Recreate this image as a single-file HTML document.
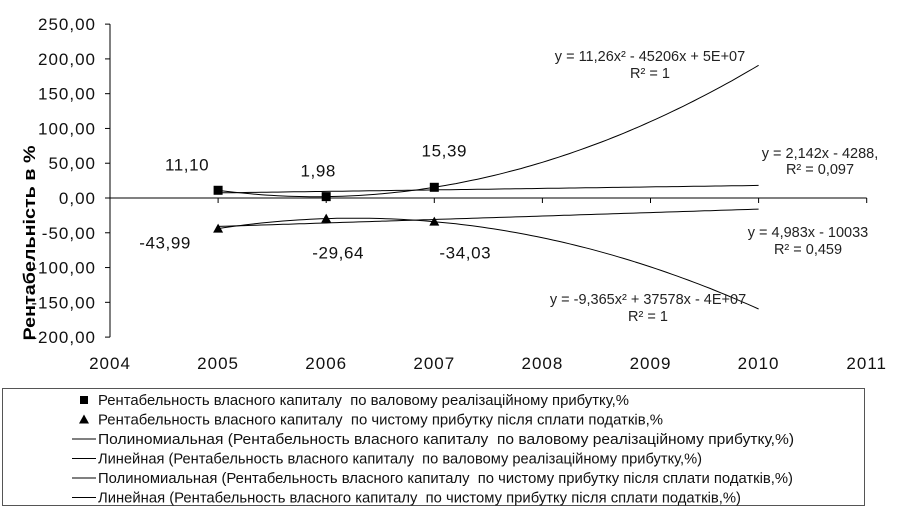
<!DOCTYPE html>
<html><head><meta charset="utf-8"><style>
body{margin:0;background:#fff;}
svg text{font-family:"Liberation Sans","DejaVu Sans",sans-serif;white-space:pre;}
</style></head><body>
<svg width="897" height="516" viewBox="0 0 897 516" id="chart">
<g id="axes"></g><g id="marks"></g><g id="labels"></g>
<text transform="translate(35,243) rotate(-90)" text-anchor="middle" font-size="17" font-weight="bold" fill="#000" textLength="195" lengthAdjust="spacingAndGlyphs">Рентабельність в %</text>
<g font-size="14.5" fill="#222" text-anchor="middle">
<text x="650" y="61">y = 11,26x² - 45206x + 5E+07</text><text x="650" y="78">R² = 1</text>
<text x="820" y="158">y = 2,142x - 4288,</text><text x="820" y="174">R² = 0,097</text>
<text x="808" y="237">y = 4,983x - 10033</text><text x="808" y="254">R² = 0,459</text>
<text x="648" y="304">y = -9,365x² + 37578x - 4E+07</text><text x="648" y="321">R² = 1</text>
</g>
<rect x="2.5" y="388.5" width="862" height="117" fill="#fff" stroke="#555"/>
<g id="legend" fill="#111"></g>
</svg>
<script>
const years=[2005,2006,2007];
const grossValues=[11.10,1.98,15.39];
const netValues=[-43.99,-29.64,-34.03];
const grossLabels=["11,10","1,98","15,39"];
const netLabels=["-43,99","-29,64","-34,03"];
const yTicks=[250,200,150,100,50,0,-50,-100,-150,-200];
const yTickLabels=["250,00","200,00","150,00","100,00","50,00","0,00","-50,00","-100,00","-150,00","-200,00"];
const xTicks=[2004,2005,2006,2007,2008,2009,2010,2011];
const trendEnd=2010;
const NS="http://www.w3.org/2000/svg";
function X(v){return 110+(v-2004)*108.1;}
function Y(v){return 198-v*0.6955;}
function mk(p,t,a){const e=document.createElementNS(NS,t);for(const k in a)e.setAttribute(k,a[k]);p.appendChild(e);return e;}
const axes=document.getElementById('axes'),marks=document.getElementById('marks'),labels=document.getElementById('labels');
let e=mk(axes,'line',{x1:110,y1:Y(250),x2:110,y2:Y(-200),stroke:'#000'});


e=mk(axes,'line',{x1:110,y1:Y(0),x2:X(2011),y2:Y(0),stroke:'#000'});


yTicks.forEach((v,i)=>{
 mk(axes,'line',{x1:105,y1:Y(v),x2:110,y2:Y(v),stroke:'#000'});
 const t=mk(axes,'text',{x:96,y:Y(v)+6,'text-anchor':'end','font-size':17,'letter-spacing':1,fill:'#111'});t.textContent=yTickLabels[i];
 
 
});
xTicks.forEach(v=>{
 if(v>2004) mk(axes,'line',{x1:X(v),y1:Y(0),x2:X(v),y2:Y(0)+5,stroke:'#000'});
 const t=mk(axes,'text',{x:X(v),y:369,'text-anchor':'middle','font-size':17,'letter-spacing':1,fill:'#111'});t.textContent=v;
 
 
});
function poly(vals){const c=vals[0],s1=vals[1]-c,s2=vals[2]-c;const a=(s2-2*s1)/2,b=s1-a;return t=>a*t*t+b*t+c;}
function lin(vals){const n=vals.length,m=vals.reduce((s,v)=>s+v,0)/n,tm=(n-1)/2;let num=0,den=0;vals.forEach((v,i)=>{num+=(i-tm)*(v-m);den+=(i-tm)*(i-tm);});const k=num/den;return t=>m+k*(t-tm);}
function trend(f,name){let d='';const T=trendEnd-years[0];for(let i=0;i<=100;i++){const t=T*i/100;d+=(i?'L':'M')+X(years[0]+t).toFixed(1)+','+Y(f(t)).toFixed(1);}
 const p=mk(marks,'path',{d:d,fill:'none',stroke:'#000','stroke-width':1});
 
 }
trend(poly(grossValues),'gross-poly-trend');
trend(lin(grossValues),'gross-linear-trend');
trend(poly(netValues),'net-poly-trend');
trend(lin(netValues),'net-linear-trend');
grossValues.forEach((v,i)=>{const r=mk(marks,'rect',{x:X(years[i])-4.5,y:Y(v)-4.5,width:9,height:9,fill:'#000'});
 
 });
netValues.forEach((v,i)=>{const x=X(years[i]),y=Y(v);const p=mk(marks,'polygon',{points:`${x},${y-5} ${x-5},${y+4} ${x+5},${y+4}`,fill:'#000'});
 
 });
const gOff=[[-31,-20],[-8,-20],[10,-31]],nOff=[[-53,20],[12,40],[31,37]];
grossValues.forEach((v,i)=>{const t=mk(labels,'text',{x:X(years[i])+gOff[i][0],y:Y(v)+gOff[i][1],'text-anchor':'middle','font-size':17,'letter-spacing':0.6,fill:'#111'});t.textContent=grossLabels[i];
 
 });
netValues.forEach((v,i)=>{const t=mk(labels,'text',{x:X(years[i])+nOff[i][0],y:Y(v)+nOff[i][1],'text-anchor':'middle','font-size':17,'letter-spacing':0.6,fill:'#111'});t.textContent=netLabels[i];
 
 });
const legendItems=[["sq","Рентабельность власного капиталу  по валовому реалізаційному прибутку,%",629],["tri","Рентабельность власного капиталу  по чистому прибутку після сплати податків,%",663],["ln","Полиномиальная (Рентабельность власного капиталу  по валовому реалізаційному прибутку,%)",794],["ln","Линейная (Рентабельность власного капиталу  по валовому реалізаційному прибутку,%)",702],["ln","Полиномиальная (Рентабельность власного капиталу  по чистому прибутку після сплати податків,%)",793],["ln","Линейная (Рентабельность власного капиталу  по чистому прибутку після сплати податків,%)",741]];
const lg=document.getElementById('legend');
legendItems.forEach((it,i)=>{const y=400+i*19.5;const g=mk(lg,'g',{});
 
 
 if(it[0]=='sq')mk(g,'rect',{x:80,y:y-4,width:8,height:8,fill:'#000'});
 else if(it[0]=='tri')mk(g,'polygon',{points:`84,${y-5} 79,${y+4} 89,${y+4}`,fill:'#000'});
 else mk(g,'line',{x1:72,y1:y,x2:96,y2:y,stroke:'#000'});
 const t=mk(g,'text',{x:98,y:y+5,'font-size':14.5,fill:'#111',textLength:it[2]-98,lengthAdjust:'spacingAndGlyphs'});t.textContent=it[1];});
</script>
</body></html>
